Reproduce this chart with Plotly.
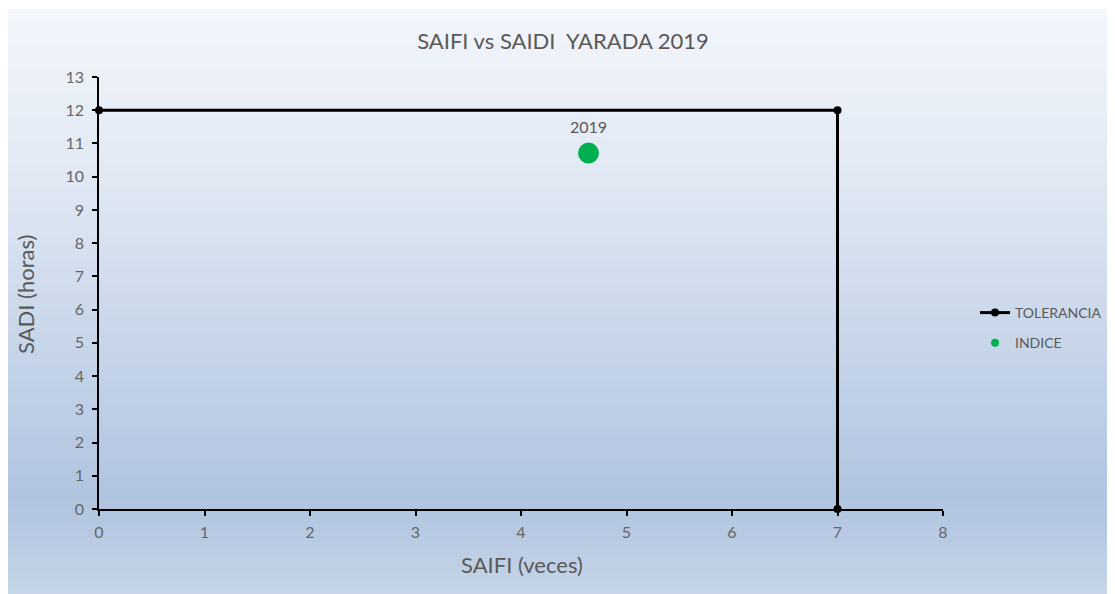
import plotly.graph_objects as go

# ---- data ----
tol_saifi = [0, 7, 7]
tol_saidi = [12, 12, 0]
idx_saifi = [4.64]
idx_saidi = [10.71]
idx_labels = ["2019"]
x_ticks = [0, 1, 2, 3, 4, 5, 6, 7, 8]
y_ticks = list(range(0, 14))

OFF = 8  # page body margin
W, H = 1115 - OFF, 594 - OFF
# plot area in page pixels: x 99..943, y 77..509
L, R = 99 - OFF, W - (943 - OFF)
T, B = 77 - OFF, H - (509 - OFF)
PW, PH = W - L - R, H - T - B

def px2paper_x(px):  # page px
    return (px - OFF - L) / PW

def py2paper_y(py):  # page px
    return (H - B - (py - OFF)) / PH

# gradient background (Excel-like)
stops = [(9, (243, 246, 251)), (150, (228, 235, 245)), (320, (203, 216, 235)),
         (500, (176, 196, 224)), (594, (198, 213, 231))]

def col_at(py):
    for (y0, c0), (y1, c1) in zip(stops, stops[1:]):
        if y0 <= py <= y1:
            t = (py - y0) / (y1 - y0)
            return tuple(round(a + (b - a) * t) for a, b in zip(c0, c1))
    return stops[-1][1]

shapes = []
step = 6
y = 9
while y < 594 + 2:
    y2 = y + step
    c = col_at(min((y + y2) / 2, 594))
    shapes.append(dict(type="rect", xref="paper", yref="paper", layer="below",
                       x0=px2paper_x(8), x1=px2paper_x(1120),
                       y0=py2paper_y(y2 + 0.5), y1=py2paper_y(y),
                       line=dict(width=0), fillcolor="rgb(%d,%d,%d)" % c))
    y = y2

FONT = "Lato, 'Open Sans', sans-serif"
GRAY = "#595959"

fig = go.Figure()
fig.add_trace(go.Scatter(x=tol_saifi, y=tol_saidi, mode="lines+markers", name="TOLERANCIA",
                         showlegend=False,
                         line=dict(color="black", width=3),
                         marker=dict(color="black", size=8), cliponaxis=False))
fig.add_trace(go.Scatter(x=idx_saifi, y=idx_saidi, mode="markers", name="INDICE",
                         showlegend=False,
                         marker=dict(color="#00b050", size=21), cliponaxis=False))
# legend entries (same styling, legend-sized markers)
fig.add_trace(go.Scatter(x=[None], y=[None], mode="lines+markers", name="TOLERANCIA",
                         legendgroup="a", line=dict(color="black", width=3),
                         marker=dict(color="black", size=8)))
fig.add_trace(go.Scatter(x=[None], y=[None], mode="markers", name="INDICE",
                         legendgroup="b", marker=dict(color="#00b050", size=8)))

for xv, yv, t in zip(idx_saifi, idx_saidi, idx_labels):
    fig.add_annotation(x=xv, y=yv, text=t, showarrow=False, yshift=27,
                       font=dict(family=FONT, size=16, color=GRAY))

# axis titles as annotations (page px positions)
fig.add_annotation(xref="paper", yref="paper", x=px2paper_x(522), y=py2paper_y(564),
                   text="SAIFI (veces)", showarrow=False, xanchor="center", yanchor="middle",
                   font=dict(family=FONT, size=22, color=GRAY))
fig.add_annotation(xref="paper", yref="paper", x=px2paper_x(25), y=py2paper_y(295),
                   text="SADI (horas)", showarrow=False, xanchor="center", yanchor="middle",
                   textangle=-90, font=dict(family=FONT, size=22, color=GRAY))

fig.update_layout(
    width=W, height=H,
    margin=dict(l=L, r=R, t=T, b=B, autoexpand=False),
    paper_bgcolor="white", plot_bgcolor="rgba(0,0,0,0)",
    shapes=shapes,
    title=dict(text="SAIFI vs SAIDI \u00a0YARADA 2019", x=(563 - OFF) / W, xanchor="center",
               y=1 - (41 - OFF) / H, yanchor="middle",
               font=dict(family=FONT, size=22, color=GRAY)),
    legend=dict(x=px2paper_x(975), xanchor="left", y=py2paper_y(328), yanchor="middle",
                bgcolor="rgba(0,0,0,0)", font=dict(family=FONT, size=14, color=GRAY),
                tracegroupgap=9),
    showlegend=True,
)
fig.update_xaxes(range=[0, 8], tickvals=x_ticks, showgrid=False, zeroline=False,
                 showline=True, linecolor="black", linewidth=1.5,
                 ticks="outside", ticklen=5, tickcolor="black", tickwidth=1.5,
                 ticklabelstandoff=3,
                 tickfont=dict(family=FONT, size=16, color="#666666"))
fig.update_yaxes(range=[0, 13], tickvals=y_ticks, showgrid=False, zeroline=False,
                 showline=True, linecolor="black", linewidth=1.5,
                 ticks="outside", ticklen=5, tickcolor="black", tickwidth=1.5,
                 ticklabelstandoff=5,
                 tickfont=dict(family=FONT, size=16, color="#666666"))

fig.write_html("out.html")
